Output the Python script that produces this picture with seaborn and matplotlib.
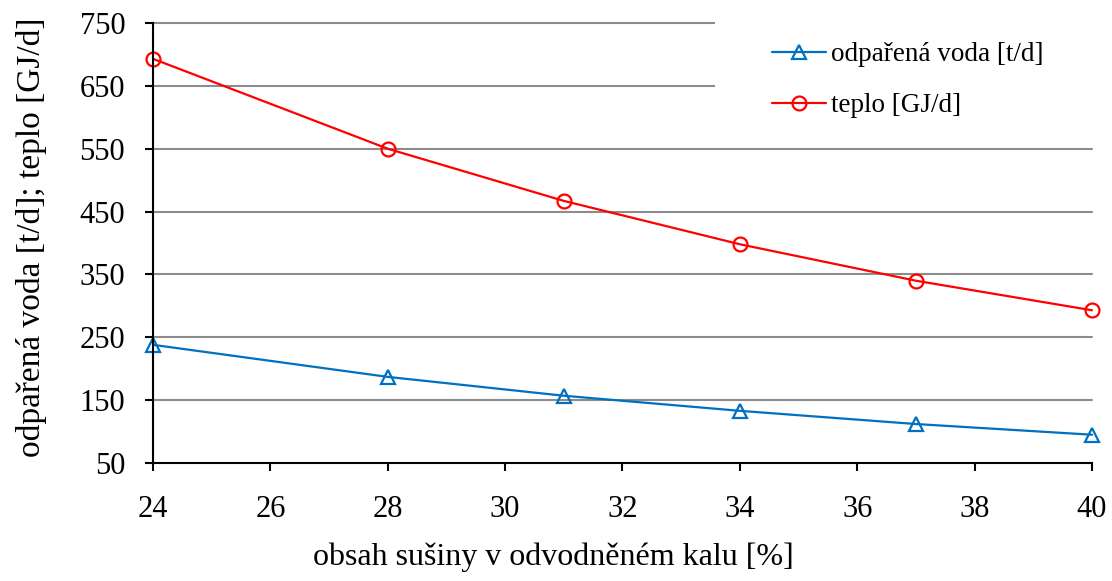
import matplotlib
matplotlib.use("Agg")
import matplotlib.pyplot as plt
from matplotlib.patches import Rectangle
import seaborn as sns
import pandas as pd

x_vals = [24, 28, 31, 34, 37, 40]
voda = [238, 187, 157, 133, 112, 95]
teplo = [693, 550, 467, 398, 340, 293]
label_voda = "odpařená voda [t/d]"
label_teplo = "teplo [GJ/d]"
x_ticks = [24, 26, 28, 30, 32, 34, 36, 38, 40]
y_ticks = [50, 150, 250, 350, 450, 550, 650, 750]

sns.set_theme(style="white")
plt.rcParams['font.family'] = ['Liberation Serif', 'DejaVu Serif']
plt.rcParams['text.color'] = 'black'
plt.rcParams['axes.labelcolor'] = 'black'
plt.rcParams['xtick.color'] = 'black'
plt.rcParams['ytick.color'] = 'black'
plt.rcParams['xtick.labelcolor'] = 'black'
plt.rcParams['ytick.labelcolor'] = 'black'

df = pd.DataFrame({
    "x": x_vals * 2,
    "y": voda + teplo,
    "serie": [label_voda] * len(x_vals) + [label_teplo] * len(x_vals),
})

fig = plt.figure(figsize=(11.12, 5.81), dpi=100)
ax = fig.add_axes([0.1376, 0.2031, 0.9820 - 0.1376, 0.9604 - 0.2031])

palette = {label_voda: "#0070C0", label_teplo: "#FF0000"}
markers = {label_voda: "^", label_teplo: "o"}
sns.lineplot(data=df, x="x", y="y", hue="serie", style="serie",
             hue_order=[label_voda, label_teplo],
             palette=palette, markers=markers, dashes=False,
             markersize=10, markerfacecolor="none", markeredgewidth=1.6,
             linewidth=1.6, ax=ax, legend=False)

series_lines = list(ax.lines)
for ln in series_lines:
    ln.set_markeredgecolor(ln.get_color())
    ln.set_markerfacecolor("none")
    ln.set_clip_on(False)
    ln.set_zorder(4)

ax.set_xlim(24, 40)
ax.set_ylim(50, 750)
ax.set_xticks(x_ticks)
ax.set_yticks(y_ticks)
ax.tick_params(axis="both", labelsize=22, length=6, width=1.5, direction="out",
               color="black", labelcolor="black", bottom=True, left=True)
ax.tick_params(axis="y", pad=14)
ax.tick_params(axis="x", pad=17)
for y in y_ticks[1:]:
    ax.axhline(y, color="#8c8c8c", linewidth=1.5, zorder=1, clip_on=False)

# white area behind the legend (hides grid lines like the original)
ax.add_patch(Rectangle((0.5985, 0.768), 0.45, 0.25, transform=ax.transAxes,
                       facecolor="white", edgecolor="none", zorder=2,
                       clip_on=False))

for s in ["top", "right"]:
    ax.spines[s].set_visible(False)
for s in ["left", "bottom"]:
    ax.spines[s].set_color("black")
    ax.spines[s].set_linewidth(1.5)
    ax.spines[s].set_zorder(5)

ax.set_xlabel("obsah sušiny v odvodněném kalu [%]", fontsize=23, color="black")
ax.set_ylabel("odpařená voda [t/d]; teplo [GJ/d]", fontsize=24, color="black")
ax.xaxis.set_label_coords(0.426, -0.18)
ax.yaxis.set_label_coords(-0.113, 0.5136)

leg = ax.legend(series_lines, [label_voda, label_teplo],
                loc="upper left", bbox_to_anchor=(0.659, 0.956), fontsize=19.5,
                frameon=False, handlelength=2.0, labelspacing=0.95,
                borderpad=0, borderaxespad=0, handletextpad=0.2,
                labelcolor="black")
leg.set_zorder(6)

fig.savefig("out.png", dpi=100)
